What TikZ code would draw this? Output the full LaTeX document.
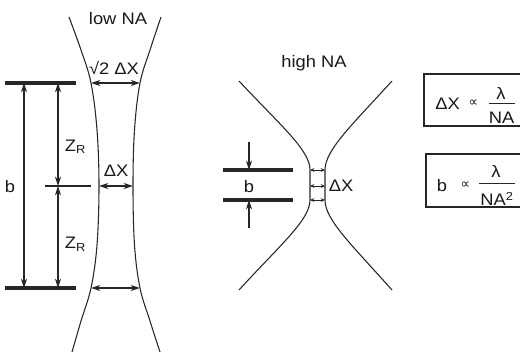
\documentclass[tikz,border=0pt]{standalone}
\usepackage{fontspec}
\setmainfont{Liberation Sans}[FakeStretch=1.1]
\newfontfamily\simb{DejaVu Sans}
\usetikzlibrary{arrows.meta}

\tikzset{
  linea/.style={line width=0.8pt, draw=black!85},
  barra/.style={line width=2.4pt, draw=black!85},
  flecha/.style={linea, {Stealth[length=7pt,width=4.5pt]}-{Stealth[length=7pt,width=4.5pt]}},
  flechaun/.style={linea, -{Stealth[length=7pt,width=4.5pt]}},
  flechita/.style={line width=0.5pt, draw=black!85, {Stealth[length=3.2pt,width=2.8pt]}-{Stealth[length=3.2pt,width=2.8pt]}},
  etiqueta/.style={font=\fontsize{12.5}{14}\selectfont, text=black!90, inner sep=0pt},
  prop/.style={font=\simb\fontsize{10}{11}\selectfont, text=black!90, inner sep=0pt},
  caja/.style={line width=0.8pt, draw=black!85}
}

\begin{document}
\begin{tikzpicture}[x=0.75pt,y=-0.75pt]
	\useasboundingbox (0,0) rectangle (520,351);
	
	% Haz con NA baja
	\draw[linea] plot[smooth, tension=0.6] coordinates {(69,17) (81,50) (91,83) (97,130) (99,186) (97,245) (91,288) (81,321) (72,352)};
	\draw[linea] plot[smooth, tension=0.6] coordinates {(161,17) (150,50) (140,83) (134.5,130) (133,186) (134.5,245) (140,288) (150,321) (160,352)};
	\node[etiqueta] (bajaNA) at (118,19) {low NA};
	
	% Barras y linea central
	\coordinate (bti) at (5,83);   \coordinate (btd) at (76,83);
	\coordinate (bbi) at (5,288);  \coordinate (bbd) at (76,288);
	\coordinate (mci) at (45,186); \coordinate (mcd) at (91,186);
	\draw[barra] (bti) -- (btd);
	\draw[barra] (bbi) -- (bbd);
	\draw[linea] (mci) -- (mcd);
	
	% Cotas b y Z_R
	\coordinate (bArr) at (24,83);  \coordinate (bAba) at (24,288);
	\coordinate (zArr) at (58,83);  \coordinate (zMed) at (58,186); \coordinate (zAba) at (58,288);
	\draw[flecha] (bArr) -- (bAba);
	\draw[flecha] (zArr) -- (zMed);
	\draw[flecha] (zMed) -- (zAba);
	\node[etiqueta] (bIzq) at (10,187) {b};
	\node[etiqueta] (zr1) at (75.5,147) {Z\textsubscript{R}};
	\node[etiqueta] (zr2) at (75.5,244) {Z\textsubscript{R}};
	
	% Anchos del haz
	\coordinate (a1i) at (91,83);  \coordinate (a1d) at (140,83);
	\coordinate (a2i) at (99,186); \coordinate (a2d) at (133,186);
	\coordinate (a3i) at (91,288); \coordinate (a3d) at (140,288);
	\draw[flecha] (a1i) -- (a1d);
	\draw[flecha] (a2i) -- (a2d);
	\draw[flecha] (a3i) -- (a3d);
	\node[etiqueta] (raiz) at (114,67.5) {√2 ΔX};
	\node[etiqueta] (dx1) at (116,171) {ΔX};
	
	% Haz con NA alta
	\draw[linea] (239,81) .. controls (280,125) and (310,150) .. (310,170) -- (310,200) .. controls (310,220) and (280,245) .. (239,290);
	\draw[linea] (392,81) .. controls (352,125) and (325,150) .. (325,170) -- (325,200) .. controls (325,220) and (352,245) .. (392,290);
	\node[etiqueta] (altaNA) at (314,63.5) {high NA};
	
	% Flechas pequenas en la cintura
	\foreach \yy in {170,186,200} {
		\coordinate (ci\yy) at (310,\yy);
		\coordinate (cd\yy) at (325,\yy);
		\draw[flechita] (ci\yy) -- (cd\yy);
	}
	\node[etiqueta] (dx2) at (341,186) {ΔX};
	
	% Barras de b
	\coordinate (hti) at (223,170); \coordinate (htd) at (293,170);
	\coordinate (hbi) at (223,200); \coordinate (hbd) at (293,200);
	\draw[barra] (hti) -- (htd);
	\draw[barra] (hbi) -- (hbd);
	\coordinate (fs) at (249,142); \coordinate (fsb) at (249,170);
	\coordinate (fi) at (249,228); \coordinate (fib) at (249,200);
	\draw[flechaun] (fs) -- (fsb);
	\draw[flechaun] (fi) -- (fib);
	\node[etiqueta] (bDer) at (249,187) {b};
	
	% Relacion para Delta X
	\coordinate (c1a) at (424,74); \coordinate (c1b) at (530,126);
	\draw[caja] (c1a) rectangle (c1b);
	\node[etiqueta] (dx3) at (447.5,103.5) {ΔX};
	\node[prop] (pr1) at (473.5,103) {∝};
	\node[etiqueta] (lam1) at (501,93) {λ};
	\node[etiqueta] (na1) at (501.5,117.5) {NA};
	\coordinate (fr1a) at (489,103); \coordinate (fr1b) at (515,103);
	\draw[line width=0.7pt, draw=black!85] (fr1a) -- (fr1b);
	
	% Relacion para b
	\coordinate (c2a) at (426,154); \coordinate (c2b) at (528,207);
	\draw[caja] (c2a) rectangle (c2b);
	\node[etiqueta] (b3) at (442,186) {b};
	\node[prop] (pr2) at (465.5,185) {∝};
	\node[etiqueta] (lam2) at (496,171) {λ};
	\node[etiqueta] (na2) at (497,199) {NA\textsuperscript{2}};
	\coordinate (fr2a) at (479,183); \coordinate (fr2b) at (515,183);
	\draw[line width=0.7pt, draw=black!85] (fr2a) -- (fr2b);
	
\end{tikzpicture}
\end{document}
